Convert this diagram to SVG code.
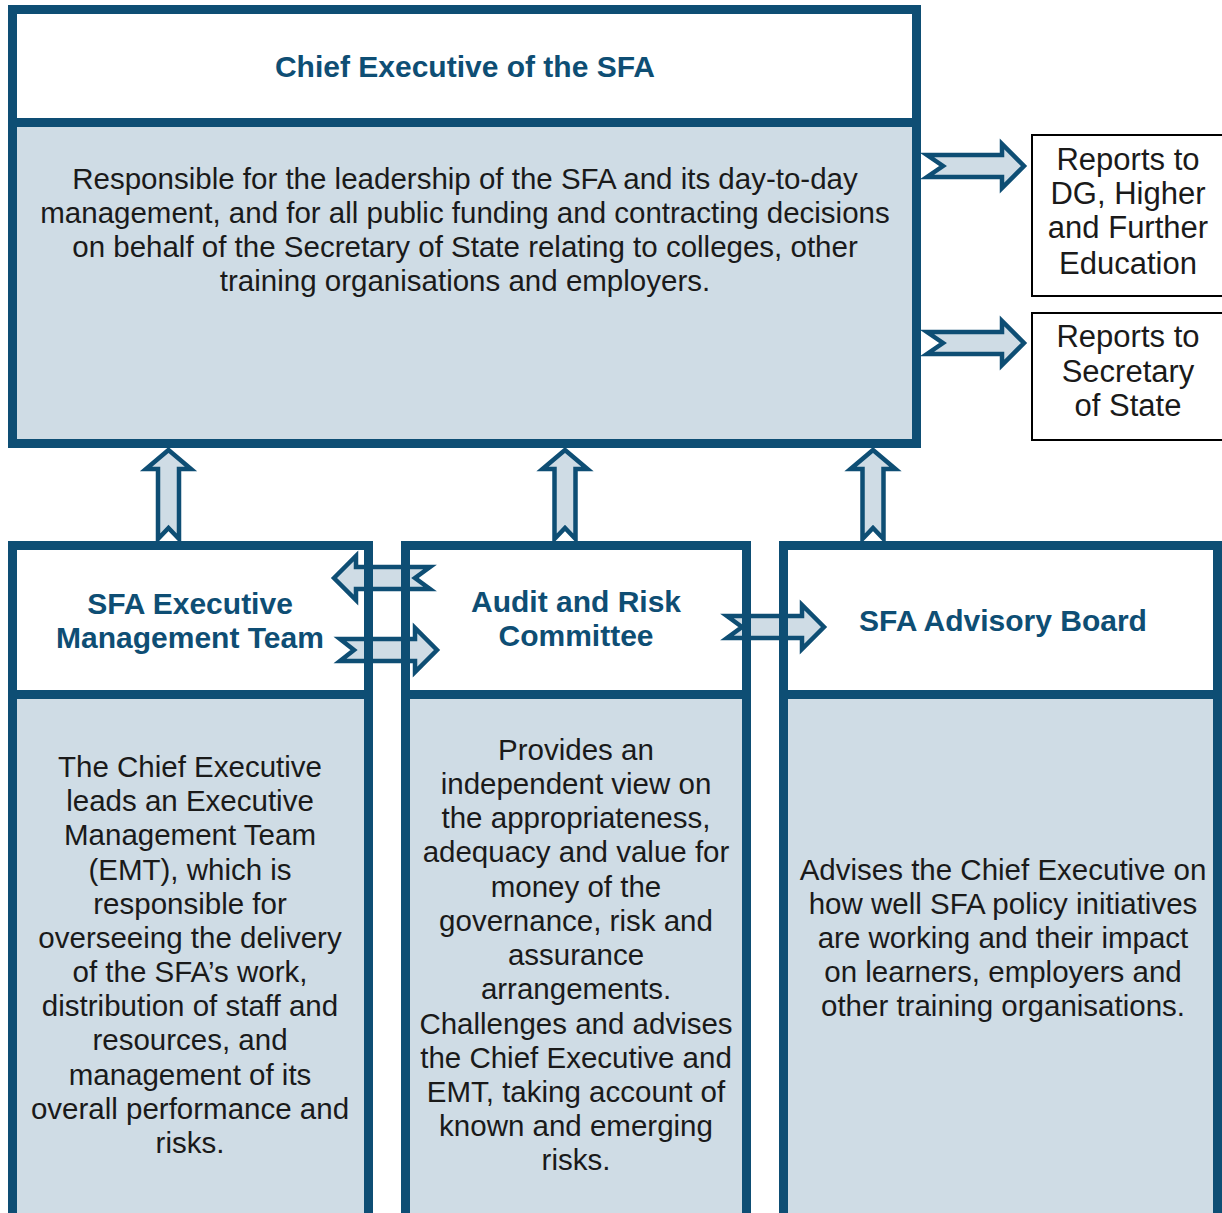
<svg xmlns="http://www.w3.org/2000/svg" width="1222" height="1213" viewBox="0 0 1222 1213">
<style>
.hdr{fill:#ffffff}
.body{fill:#cfdce5}
.border{fill:none;stroke:#0e4e74;stroke-width:9}
.div{stroke:#0e4e74;stroke-width:9}
.side{fill:#ffffff;stroke:#000000;stroke-width:2}
.arrow{fill:#cfdce5;stroke:#0e4e74;stroke-width:4.5;stroke-linejoin:miter}
.t{font-family:"Liberation Sans",Arial,sans-serif;font-size:29.5px;fill:#1a1a1a;text-anchor:middle}
.r{font-size:31px}
.b{font-family:"Liberation Sans",Arial,sans-serif;font-size:30px;font-weight:bold;fill:#0e4e74;text-anchor:middle}
</style>
<rect width="1222" height="1213" fill="#ffffff"/>

<g id="chief-executive">
<rect class="hdr" x="12.5" y="9.5" width="904" height="113"/>
<rect class="body" x="12.5" y="122.5" width="904" height="321"/>
<text class="b" x="465" y="77">Chief Executive of the SFA</text>
<text class="t" x="465" y="189">Responsible for the leadership of the SFA and its day-to-day</text>
<text class="t" x="465" y="223">management, and for all public funding and contracting decisions</text>
<text class="t" x="465" y="257">on behalf of the Secretary of State relating to colleges, other</text>
<text class="t" x="465" y="291">training organisations and employers.</text>
</g>

<g id="reports-dg">
<rect class="side" x="1032" y="135" width="200" height="161"/>
<text class="t r" x="1128" y="170">Reports to</text>
<text class="t r" x="1128" y="204">DG, Higher</text>
<text class="t r" x="1128" y="238">and Further</text>
<text class="t r" x="1128" y="274">Education</text>
</g>

<g id="reports-sos">
<rect class="side" x="1032" y="313" width="200" height="127"/>
<text class="t r" x="1128" y="347">Reports to</text>
<text class="t r" x="1128" y="382">Secretary</text>
<text class="t r" x="1128" y="416">of State</text>
</g>

<g id="emt">
<rect class="hdr" x="12.5" y="545.5" width="356" height="149"/>
<rect class="body" x="12.5" y="694.5" width="356" height="540"/>
<text class="b" x="190" y="614">SFA Executive</text>
<text class="b" x="190" y="648">Management Team</text>
<text class="t" x="190" y="777">The Chief Executive</text>
<text class="t" x="190" y="811">leads an Executive</text>
<text class="t" x="190" y="845">Management Team</text>
<text class="t" x="190" y="880">(EMT), which is</text>
<text class="t" x="190" y="914">responsible for</text>
<text class="t" x="190" y="948">overseeing the delivery</text>
<text class="t" x="190" y="982">of the SFA’s work,</text>
<text class="t" x="190" y="1016">distribution of staff and</text>
<text class="t" x="190" y="1050">resources, and</text>
<text class="t" x="190" y="1085">management of its</text>
<text class="t" x="190" y="1119">overall performance and</text>
<text class="t" x="190" y="1153">risks.</text>
</g>

<g id="audit-risk">
<rect class="hdr" x="405.5" y="545.5" width="341" height="149"/>
<rect class="body" x="405.5" y="694.5" width="341" height="540"/>
<text class="b" x="576" y="612">Audit and Risk</text>
<text class="b" x="576" y="646">Committee</text>
<text class="t" x="576" y="760">Provides an</text>
<text class="t" x="576" y="794">independent view on</text>
<text class="t" x="576" y="828">the appropriateness,</text>
<text class="t" x="576" y="862">adequacy and value for</text>
<text class="t" x="576" y="897">money of the</text>
<text class="t" x="576" y="931">governance, risk and</text>
<text class="t" x="576" y="965">assurance</text>
<text class="t" x="576" y="999">arrangements.</text>
<text class="t" x="576" y="1034">Challenges and advises</text>
<text class="t" x="576" y="1068">the Chief Executive and</text>
<text class="t" x="576" y="1102">EMT, taking account of</text>
<text class="t" x="576" y="1136">known and emerging</text>
<text class="t" x="576" y="1170">risks.</text>
</g>

<g id="advisory-board">
<rect class="hdr" x="783.5" y="545.5" width="434" height="149"/>
<rect class="body" x="783.5" y="694.5" width="434" height="540"/>
<text class="b" x="1003" y="631">SFA Advisory Board</text>
<text class="t" x="1003" y="880">Advises the Chief Executive on</text>
<text class="t" x="1003" y="914">how well SFA policy initiatives</text>
<text class="t" x="1003" y="948">are working and their impact</text>
<text class="t" x="1003" y="982">on learners, employers and</text>
<text class="t" x="1003" y="1016">other training organisations.</text>
</g>

<g id="connectors">
<path class="arrow" d="M927,155 L1002,155 L1002,144 L1024,166 L1002,188 L1002,177 L927,177 L943,166 Z"/>
<path class="arrow" d="M927,332 L1002,332 L1002,321 L1024,343 L1002,365 L1002,354 L927,354 L943,343 Z"/>
<path class="arrow" d="M168.5,450 L191,469 L179,469 L179,539 L168.5,528 L158,539 L158,469 L146,469 Z"/>
<path class="arrow" d="M565,450 L587.5,469 L575.5,469 L575.5,539 L565,528 L554.5,539 L554.5,469 L542.5,469 Z"/>
<path class="arrow" d="M873,450 L895.5,469 L883.5,469 L883.5,539 L873,528 L862.5,539 L862.5,469 L850.5,469 Z"/>
<path class="arrow" d="M334,578 L356,556 L356,567 L430,567 L415,578 L430,589 L356,589 L356,600 Z"/>
<path class="arrow" d="M340,639 L415,639 L415,628 L437,650 L415,672 L415,661 L340,661 L354,650 Z"/>
<path class="arrow" d="M727,616 L802,616 L802,605 L824,627 L802,649 L802,638 L727,638 L742,627 Z"/>
</g>

<g id="borders">
<rect class="border" x="12.5" y="9.5" width="904" height="434"/>
<line class="div" x1="12.5" y1="122.5" x2="916.5" y2="122.5"/>
<rect class="border" x="12.5" y="545.5" width="356" height="700"/>
<line class="div" x1="12.5" y1="694.5" x2="368.5" y2="694.5"/>
<rect class="border" x="405.5" y="545.5" width="341" height="700"/>
<line class="div" x1="405.5" y1="694.5" x2="746.5" y2="694.5"/>
<rect class="border" x="783.5" y="545.5" width="434" height="700"/>
<line class="div" x1="783.5" y1="694.5" x2="1217.5" y2="694.5"/>
</g>
</svg>
